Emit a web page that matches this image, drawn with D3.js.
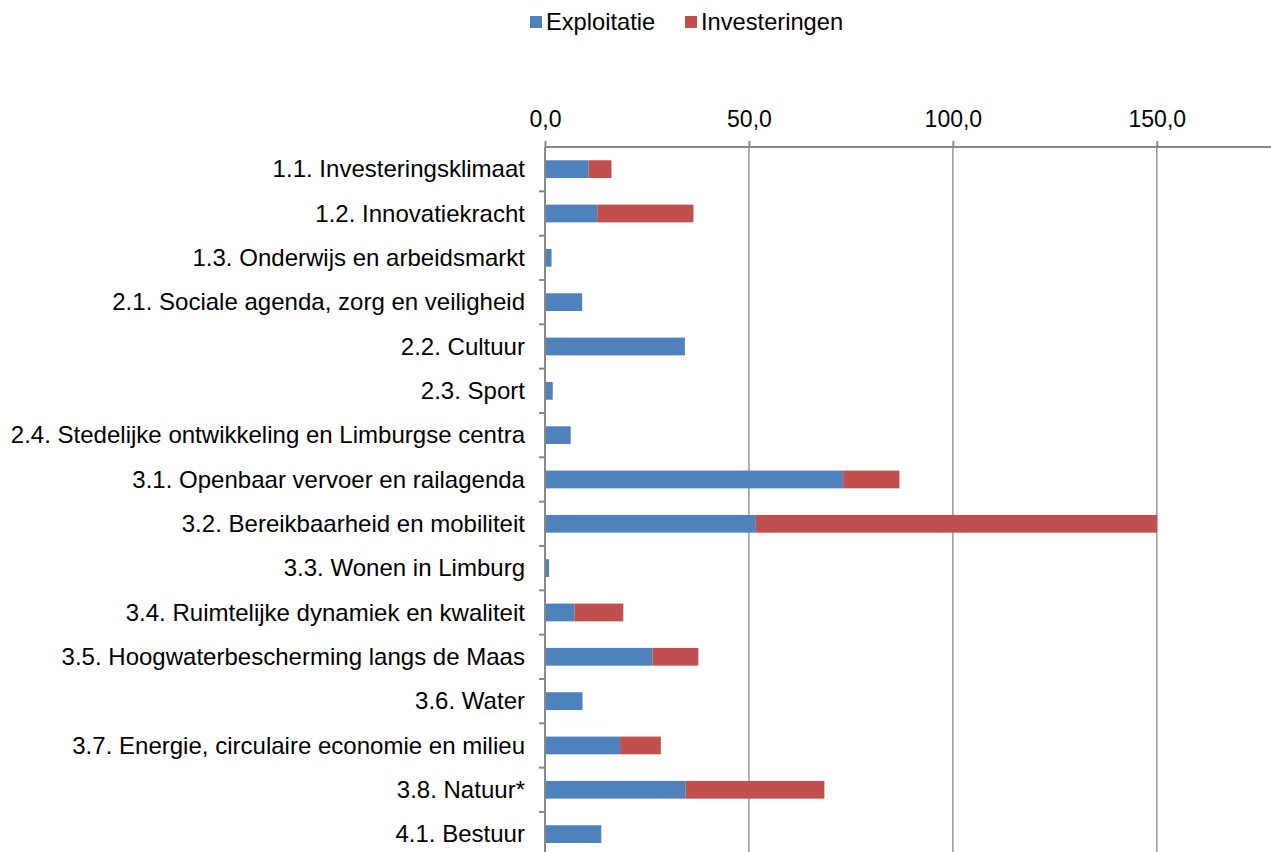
<!DOCTYPE html>
<html lang="nl">
<head>
<meta charset="utf-8">
<title>Exploitatie en investeringen</title>
<script src="https://cdnjs.cloudflare.com/ajax/libs/d3/7.8.5/d3.min.js"></script>
<style>
  body { margin: 0; background: #fff; }
  svg text { font-family: "Liberation Sans", Arial, sans-serif; fill: #000; }
</style>
</head>
<body>
<div id="chart"></div>
<script>
// data (x 1 mln)
const categories = [
  "1.1. Investeringsklimaat",
  "1.2. Innovatiekracht",
  "1.3. Onderwijs en arbeidsmarkt",
  "2.1. Sociale agenda, zorg en veiligheid",
  "2.2. Cultuur",
  "2.3. Sport",
  "2.4. Stedelijke ontwikkeling en Limburgse centra",
  "3.1. Openbaar vervoer en railagenda",
  "3.2. Bereikbaarheid en mobiliteit",
  "3.3. Wonen in Limburg",
  "3.4. Ruimtelijke dynamiek en kwaliteit",
  "3.5. Hoogwaterbescherming langs de Maas",
  "3.6. Water",
  "3.7. Energie, circulaire economie en milieu",
  "3.8. Natuur*",
  "4.1. Bestuur"
];
const exploitatie =   [10.7, 12.8, 1.6, 9.1, 34.3, 1.9, 6.3, 73.1, 51.7, 1.0, 7.2, 26.4, 9.2, 18.4, 34.5, 13.8];
const investeringen = [5.6, 23.6, 0, 0, 0, 0, 0, 13.8, 98.4, 0, 12.0, 11.2, 0, 10.0, 34.0, 0];
const seriesNames = ["Exploitatie", "Investeringen"];
const colors = ["#4F81BD", "#C0504D"];
const xTicks = [0, 50, 100, 150];

const width = 1271, height = 852;
const margin = {left: 545, right: 0, top: 147, bottom: 0};
const rowH = 44.33;
const plotH = rowH * categories.length;
const fontSize = 23;

const svg = d3.select("#chart").append("svg")
  .attr("width", width).attr("height", height);

const x = d3.scaleLinear().domain([0, 178]).range([margin.left, width - margin.right]);
const y = d3.scaleBand().domain(categories).range([margin.top, margin.top + plotH]).paddingInner(0.6).paddingOuter(0.3);

// gridlines
svg.append("g").selectAll("line")
  .data(xTicks.slice(1))
  .join("line")
    .attr("x1", d => x(d)).attr("x2", d => x(d))
    .attr("y1", margin.top).attr("y2", height)
    .attr("stroke", "#999").attr("stroke-width", 1.5);

// stacked bars
const rows = categories.map((c, i) => ({cat: c, Exploitatie: exploitatie[i], Investeringen: investeringen[i]}));
const stacked = d3.stack().keys(seriesNames)(rows);

svg.append("g").selectAll("g")
  .data(stacked)
  .join("g")
    .attr("fill", (d, i) => colors[i])
  .selectAll("rect")
  .data(d => d.filter(s => s[1] - s[0] > 0))
  .join("rect")
    .attr("x", d => x(d[0]))
    .attr("width", d => x(d[1]) - x(d[0]))
    .attr("y", d => y(d.data.cat))
    .attr("height", y.bandwidth());

// top axis
const xAxis = d3.axisTop(x).tickValues(xTicks).tickSize(6).tickPadding(8)
  .tickFormat(d => d3.format(".1f")(d).replace(".", ","));
const gx = svg.append("g").attr("transform", `translate(0,${margin.top})`).call(xAxis);
gx.select(".domain").attr("stroke", "#888").attr("stroke-width", 2)
  .attr("d", `M${margin.left},0H${width}`);
gx.selectAll(".tick line").attr("stroke", "#888").attr("stroke-width", 2);
gx.selectAll(".tick text").style("font-size", fontSize + "px").attr("dy", "-6px");

// left axis with ticks between categories
const ySep = d3.range(categories.length + 1).map(i => margin.top + i * rowH);
svg.append("line")
  .attr("x1", margin.left).attr("x2", margin.left)
  .attr("y1", margin.top).attr("y2", height)
  .attr("stroke", "#888").attr("stroke-width", 2);
svg.append("g").selectAll("line")
  .data(ySep.slice(1))
  .join("line")
    .attr("x1", margin.left - 6).attr("x2", margin.left)
    .attr("y1", d => d).attr("y2", d => d)
    .attr("stroke", "#888").attr("stroke-width", 2);
svg.append("g").selectAll("text")
  .data(categories)
  .join("text")
    .attr("transform", d => `translate(${margin.left - 20},${y(d) + y.bandwidth() / 2}) scale(1.045,1)`)
    .attr("dy", "0.35em")
    .attr("text-anchor", "end")
    .style("font-size", fontSize + "px")
    .text(d => d);

// legend
const legend = svg.append("g");
const legendX = [530, 685];
seriesNames.forEach((name, i) => {
  legend.append("rect").attr("x", legendX[i]).attr("y", 16)
    .attr("width", 12).attr("height", 12).attr("fill", colors[i]);
  legend.append("text")
    .attr("transform", `translate(${legendX[i] + 16},22) scale(1.03,1)`)
    .attr("dy", "0.35em").style("font-size", fontSize + "px").text(name);
});
</script>
</body>
</html>
